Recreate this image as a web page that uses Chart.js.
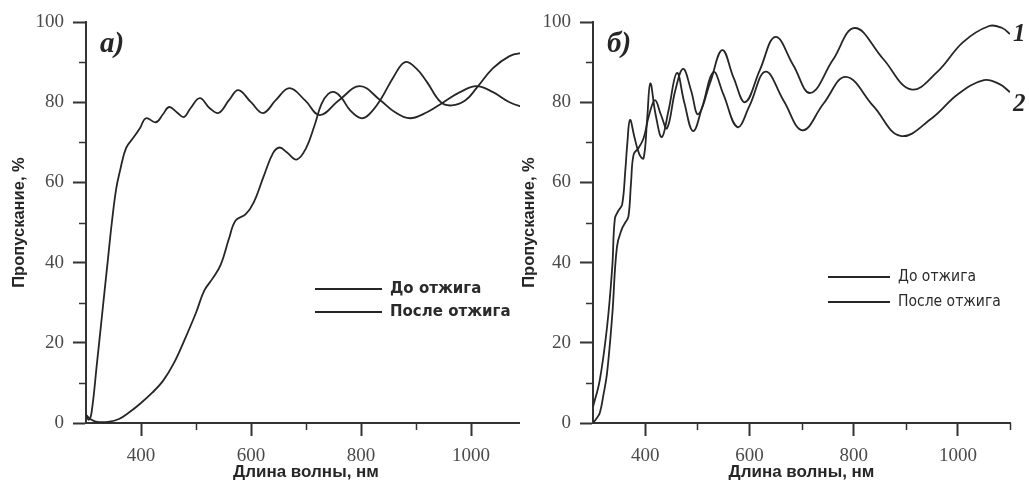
<!DOCTYPE html>
<html>
<head>
<meta charset="utf-8">
<script src="https://cdn.jsdelivr.net/npm/chart.js@4/dist/chart.umd.min.js"></script>
<style>
  html, body { margin: 0; padding: 0; background: #fff; }
  #wrap { position: relative; width: 1029px; height: 483px; overflow: hidden; }
  #leftBox { position: absolute; left: 0; top: 0; width: 520px; height: 483px; overflow: hidden; }
  #chartA { position: absolute; left: 0; top: 0; }
  #chartB { position: absolute; left: 510px; top: 0; }
</style>
</head>
<body>
<div id="wrap">
  <div id="leftBox"><canvas id="chartA" width="540" height="483"></canvas></div>
  <canvas id="chartB" width="519" height="483"></canvas>
</div>
<script>
// ---- data ----
const seriesLabels = ['До отжига', 'После отжига'];

// panel а): slow-rising curve
const aWaveBefore = [300, 310, 320, 340, 360, 380, 400, 420, 440, 460, 480, 500, 515, 530, 545, 560, 572, 590, 605, 623, 640, 652, 665, 683, 700, 715, 728, 740, 752, 765, 780, 800, 815, 835, 860, 880, 900, 920, 945, 965, 990, 1010, 1040, 1070, 1090, 1100];
const aTransBefore = [2, 0.8, 0.3, 0.3, 1, 2.8, 5, 7.5, 10.5, 15, 21, 27.5, 33, 36, 39.5, 46, 50.5, 52, 55, 61.5, 67.3, 68.7, 67.5, 65.7, 68.5, 74, 79.5, 82, 82.5, 81, 78, 76, 77, 80.5, 86.5, 90, 88.5, 85, 80, 79.2, 80.5, 83.5, 88.5, 91.5, 92.2, 92];

// panel а): steep edge curve
const aWaveAfter = [300, 305, 310, 320, 330, 340, 347, 355, 362, 373, 387, 398, 409, 427, 440, 451, 465, 478, 490, 507, 525, 541, 560, 577, 600, 622, 645, 670, 698, 725, 760, 798, 835, 862, 889, 920, 950, 980, 1010, 1040, 1070, 1100];
const aTransAfter = [2, 0.8, 2.5, 15, 28, 41, 50, 58.5, 63, 68.6, 71.3, 73.5, 76, 75, 77, 78.8, 77.5, 76.3, 78.5, 81, 78.5, 77.3, 80.5, 83, 80, 77.3, 80.5, 83.5, 80.5, 76.8, 80.5, 84, 80.5, 77.5, 76, 77.5, 80, 82.5, 84, 82.5, 80, 78.5];

// panel б): curve 1
const bWave1 = [300, 306, 313, 320, 327, 337, 346, 356, 362, 368, 373, 378, 387, 397, 408, 419, 430, 442, 458, 473, 488, 502, 525, 548, 570, 592, 620, 650, 684, 717, 760, 802, 856, 910, 960, 1010, 1060, 1085, 1100];
const bTrans1 = [0, 1, 2.5, 7, 12.5, 27, 44, 48.6, 50, 51.5, 60, 67, 68.5, 71, 77, 80.5, 77, 73.5, 83, 88.3, 83, 77, 85, 93, 86, 80, 88, 96.3, 89.3, 82.3, 90.5, 98.5, 90.9, 83.2, 87.5, 95, 99, 98.5, 97];

// panel б): curve 2
const bWave2 = [300, 313, 327, 337, 342, 349, 356, 362, 366, 371, 380, 389, 397, 404, 410, 420, 432, 445, 461, 475, 492, 510, 531, 550, 577, 600, 631, 666, 702, 742, 785, 838, 890, 950, 1000, 1050, 1080, 1100];
const bTrans2 = [4, 10.7, 24, 39, 51, 53, 54.5, 63, 70, 75.6, 71, 67, 66, 76, 84.7, 77, 71.3, 78, 87.3, 80, 72.8, 79, 87.5, 82, 73.8, 79, 87.6, 80.3, 73, 79.6, 86.3, 79, 71.6, 76, 82, 85.5, 84.5, 82.5];

// axis ticks
const xMajor = [400, 600, 800, 1000];
const xMinorA = [500, 700, 900];
const xMinorB = [500, 700, 900, 1100];
const yMajor = [0, 20, 40, 60, 80, 100];
const yMinor = [10, 30, 50, 70, 90];

// ---- styling ----
const ink = '#262626';
const axisInk = '#333';
const tickFont = { family: '"Liberation Serif", "DejaVu Serif", serif', size: 19 };

const toPoints = (xs, ys) => xs.map((x, i) => ({ x, y: ys[i] }));

// short unlabelled ticks between the labelled ones
const minorTicks = {
  id: 'minorTicks',
  afterDraw(chart, args, opts) {
    const { ctx, scales: { x, y } } = chart;
    ctx.save();
    ctx.strokeStyle = axisInk;
    ctx.lineWidth = 1.5;
    opts.y.forEach((v) => {
      const py = Math.round(y.getPixelForValue(v)) + 0.5;
      ctx.beginPath();
      ctx.moveTo(y.right - 7, py);
      ctx.lineTo(y.right, py);
      ctx.stroke();
    });
    opts.x.forEach((v) => {
      const px = Math.round(x.getPixelForValue(v)) + 0.5;
      ctx.beginPath();
      ctx.moveTo(px, x.top);
      ctx.lineTo(px, x.top + 7);
      ctx.stroke();
    });
    ctx.restore();
  }
};

// panel letter, in-plot legend and curve numbers
const annotations = {
  id: 'annotations',
  afterDraw(chart, args, opts) {
    const { ctx, chartArea } = chart;
    ctx.save();
    ctx.fillStyle = ink;
    ctx.textBaseline = 'alphabetic';
    ctx.font = 'italic bold 29px "Liberation Serif", serif';
    ctx.fillText(opts.letter, chartArea.left + opts.letterDx, 52);

    ctx.font = opts.legendFont;
    ctx.fillStyle = opts.legendColor;
    ctx.strokeStyle = ink;
    ctx.lineWidth = 2;
    ctx.textBaseline = 'middle';
    chart.data.datasets.forEach((ds, i) => {
      const ly = opts.legendY + i * opts.legendGap;
      ctx.beginPath();
      ctx.moveTo(opts.legendX, ly);
      ctx.lineTo(opts.legendX + opts.legendLen, ly);
      ctx.stroke();
      ctx.fillText(ds.label, opts.legendX + opts.legendLen + 8, ly);
    });

    if (opts.curveNames) {
      ctx.fillStyle = ink;
      ctx.font = 'italic bold 25px "Liberation Serif", serif';
      ctx.textBaseline = 'alphabetic';
      const { x, y } = chart.scales;
      chart.data.datasets.forEach((ds, i) => {
        const last = ds.data[ds.data.length - 1];
        ctx.fillText(opts.curveNames[i], x.getPixelForValue(last.x) + 3, y.getPixelForValue(last.y) + opts.curveNameDy[i]);
      });
    }
    ctx.restore();
  }
};

const makeOptions = (yWidth, padRight, xMinor, ann) => ({
  responsive: false,
  animation: false,
  layout: { padding: { top: 22, right: padRight, bottom: 0, left: 0 } },
  elements: {
    point: { radius: 0 },
    line: { borderWidth: 1.8, borderColor: ink, tension: 0.4, fill: false }
  },
  plugins: {
    legend: { display: false },
    tooltip: { enabled: false },
    minorTicks: { x: xMinor, y: yMinor },
    annotations: ann
  },
  scales: {
    x: {
      type: 'linear',
      min: 300,
      max: 1100,
      afterBuildTicks: (s) => { s.ticks = xMajor.map((v) => ({ value: v })); },
      afterFit: (s) => { s.height = 60; },
      grid: { drawOnChartArea: false, drawTicks: true, tickLength: 13, tickColor: axisInk, tickWidth: 2 },
      border: { color: axisInk, width: 2 },
      ticks: { font: tickFont, color: '#4a4a4a', padding: 9, maxRotation: 0, callback: (v) => String(v) },
      title: {
        display: true,
        text: 'Длина волны, нм',
        color: ink,
        font: { family: '"Liberation Sans", Arial, sans-serif', size: 17, weight: 'bold' },
        padding: { top: 0, bottom: 0 }
      }
    },
    y: {
      min: 0,
      max: 100,
      afterBuildTicks: (s) => { s.ticks = yMajor.map((v) => ({ value: v })); },
      afterFit: (s) => { s.width = yWidth; },
      grid: { drawOnChartArea: false, drawTicks: true, tickLength: 13, tickColor: axisInk, tickWidth: 2 },
      border: { color: axisInk, width: 2 },
      ticks: { font: tickFont, color: '#4a4a4a', padding: 9 },
      title: {
        display: true,
        text: 'Пропускание, %',
        color: ink,
        font: { family: '"Liberation Sans", Arial, sans-serif', size: 16.5, weight: 'bold' },
        padding: { top: 10, bottom: 0 }
      }
    }
  }
});

new Chart(document.getElementById('chartA'), {
  type: 'line',
  data: {
    datasets: [
      { label: seriesLabels[0], data: toPoints(aWaveBefore, aTransBefore) },
      { label: seriesLabels[1], data: toPoints(aWaveAfter, aTransAfter) }
    ]
  },
  options: makeOptions(86, 14, xMinorA, {
    letter: 'а)', letterDx: 14,
    legendX: 315, legendY: 289, legendGap: 23, legendLen: 67,
    legendFont: 'bold 15px "DejaVu Sans", sans-serif', legendColor: '#2a2a2a'
  }),
  plugins: [minorTicks, annotations]
});

new Chart(document.getElementById('chartB'), {
  type: 'line',
  data: {
    datasets: [
      { label: seriesLabels[0], data: toPoints(bWave1, bTrans1) },
      { label: seriesLabels[1], data: toPoints(bWave2, bTrans2) }
    ]
  },
  options: makeOptions(83, 19, xMinorB, {
    letter: 'б)', letterDx: 14,
    legendX: 318, legendY: 277, legendGap: 25, legendLen: 62,
    legendFont: '15.5px "Liberation Sans Narrow", "DejaVu Sans Condensed", Arial, sans-serif', legendColor: '#2a2a2a',
    curveNames: ['1', '2'], curveNameDy: [7, 19]
  }),
  plugins: [minorTicks, annotations]
});
</script>
</body>
</html>
